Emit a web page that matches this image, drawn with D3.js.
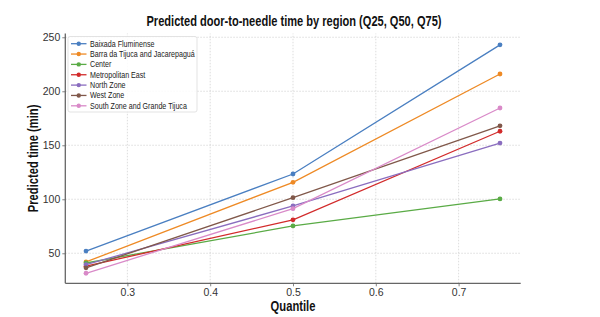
<!DOCTYPE html>
<html>
<head>
<meta charset="utf-8">
<script src="https://cdn.jsdelivr.net/npm/d3@7"></script>
<style>
  html, body { margin: 0; padding: 0; background: #fff; }
  svg { display: block; }
</style>
</head>
<body>
<div id="chart"></div>
<script>
// ---- data ----
const quantiles = [0.25, 0.5, 0.75];
const regions = [
  "Baixada Fluminense",
  "Barra da Tijuca and Jacarepaguá",
  "Center",
  "Metropolitan East",
  "North Zone",
  "West Zone",
  "South Zone and Grande Tijuca"
];
const baixada = [52, 123.4, 243];
const barra = [42, 115.7, 216];
const center = [41, 75.3, 100.3];
const metroEast = [38, 81, 163];
const northZone = [39.5, 93.8, 152];
const westZone = [36.5, 101.5, 168];
const southZone = [31.5, 91.3, 184.5];
const seriesValues = [baixada, barra, center, metroEast, northZone, westZone, southZone];
const colors = ["#4a7fc1", "#ee8a25", "#5aab46", "#d22b2b", "#8a6dbf", "#80584a", "#d98ac8"];
const xTicks = [0.3, 0.4, 0.5, 0.6, 0.7];
const yTicks = [50, 100, 150, 200, 250];

// ---- layout ----
const W = 600, H = 317;
const svg = d3.select("#chart").append("svg").attr("width", W).attr("height", H);
const sans = "'Liberation Sans', Arial, sans-serif";

// condense a text element horizontally (narrow-font look)
function condense(sel, factor) {
  sel.each(function () {
    const len = this.getComputedTextLength();
    d3.select(this).attr("textLength", len * factor).attr("lengthAdjust", "spacingAndGlyphs");
  });
}

const x = d3.scaleLinear().domain([0.225, 0.775]).range([65.3, 520.7]);
const y = d3.scaleLinear().domain([22.2, 253.5]).range([283.3, 33.5]);

// grid
const grid = svg.append("g");
grid.selectAll("line.gx").data(xTicks).join("line")
  .attr("x1", d => x(d)).attr("x2", d => x(d))
  .attr("y1", y.range()[0]).attr("y2", y.range()[1])
  .attr("stroke", "#d4d4d4").attr("stroke-width", 0.8).attr("stroke-dasharray", "1.5,1.5");
grid.selectAll("line.gy").data(yTicks).join("line")
  .attr("y1", d => y(d)).attr("y2", d => y(d))
  .attr("x1", x.range()[0]).attr("x2", x.range()[1])
  .attr("stroke", "#d4d4d4").attr("stroke-width", 0.8).attr("stroke-dasharray", "1.5,1.5");

// axes
const xAxis = svg.append("g").attr("transform", `translate(0,${y.range()[0]})`)
  .call(d3.axisBottom(x).tickValues(xTicks).tickFormat(d3.format(".1f")).tickSize(3).tickPadding(2));
const yAxis = svg.append("g").attr("transform", `translate(${x.range()[0]},0)`)
  .call(d3.axisLeft(y).tickValues(yTicks).tickSize(3).tickPadding(2));
[xAxis, yAxis].forEach(a => {
  a.select(".domain").attr("stroke", "#666").attr("stroke-width", 1.3);
  a.selectAll(".tick line").attr("stroke", "#666").attr("stroke-width", 0.8);
  a.selectAll(".tick text").attr("fill", "#333").style("font-family", sans).style("font-size", "10.5px");
});
xAxis.select(".domain").attr("d", `M${x.range()[0]},0H${x.range()[1]}`);
yAxis.select(".domain").attr("d", `M0,${y.range()[0]}V${y.range()[1]}`);

// lines
const line = d3.line().x((d, i) => x(quantiles[i])).y(d => y(d));
const series = svg.append("g");
seriesValues.forEach((vals, k) => {
  series.append("path").datum(vals).attr("d", line)
    .attr("fill", "none").attr("stroke", colors[k]).attr("stroke-width", 1.3);
  series.selectAll(null).data(vals).join("circle")
    .attr("cx", (d, i) => x(quantiles[i])).attr("cy", d => y(d)).attr("r", 2.4)
    .attr("fill", colors[k]);
});

// title & labels
const title = svg.append("text").attr("x", 294).attr("y", 26).attr("text-anchor", "middle")
  .style("font-family", sans).style("font-weight", "bold").style("font-size", "14px").attr("fill", "#111")
  .text("Predicted door-to-needle time by region (Q25, Q50, Q75)");
condense(title, 0.79);
const xl = svg.append("text").attr("x", 293).attr("y", 311).attr("text-anchor", "middle")
  .style("font-family", sans).style("font-weight", "bold").style("font-size", "14px").attr("fill", "#111")
  .text("Quantile");
condense(xl, 0.8);
const yl = svg.append("text").attr("transform", `translate(38,${(y.range()[0] + y.range()[1]) / 2}) rotate(-90)`)
  .attr("text-anchor", "middle")
  .style("font-family", sans).style("font-weight", "bold").style("font-size", "14px").attr("fill", "#111")
  .text("Predicted time (min)");
condense(yl, 0.8);

// legend
const lg = svg.append("g");
lg.append("rect").attr("x", 68).attr("y", 36.5).attr("width", 129).attr("height", 75.5)
  .attr("rx", 2).attr("fill", "#fff").attr("fill-opacity", 0.85)
  .attr("stroke", "#dcdcdc").attr("stroke-width", 0.8);
regions.forEach((name, k) => {
  const cy = 43.7 + k * 10.35;
  lg.append("line").attr("x1", 71).attr("x2", 86.5).attr("y1", cy).attr("y2", cy)
    .attr("stroke", colors[k]).attr("stroke-width", 1.3);
  lg.append("circle").attr("cx", 78.75).attr("cy", cy).attr("r", 2.2).attr("fill", colors[k]);
  const t = lg.append("text").attr("x", 90).attr("y", cy + 3)
    .style("font-family", sans).style("font-size", "9px").attr("fill", "#222")
    .text(name);
  condense(t, 0.79);
});
</script>
</body>
</html>
